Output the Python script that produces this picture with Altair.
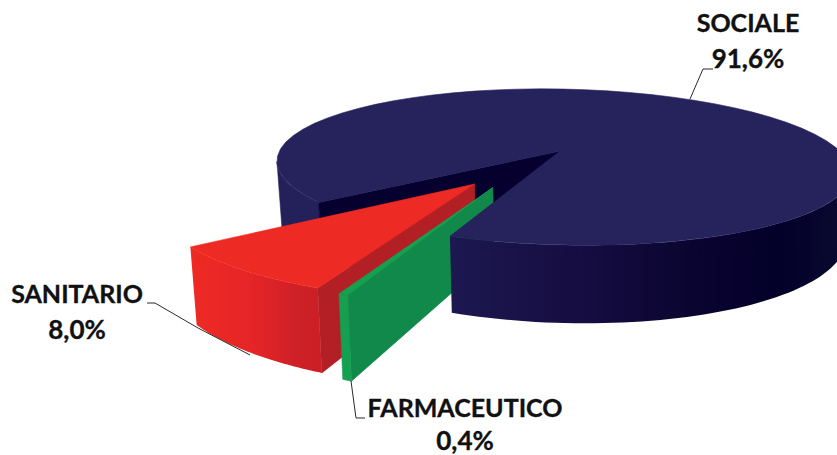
import math
import altair as alt

# Spending shares by sector, in percent
CATEGORIES = ["FARMACEUTICO", "SANITARIO", "SOCIALE"]
SHARES = [0.4, 8.0, 91.6]

# Colours of each sector's faces
TOP = {"FARMACEUTICO": "#14a050", "SANITARIO": "#ee2a24", "SOCIALE": "#25225c"}
RADIAL = {"FARMACEUTICO": "#10894a", "SANITARIO": "#b21f24", "SOCIALE": "#06002e"}

# Perspective camera for the tilted disc
APEX_X, APEX_Y = 560.0, 151.0
SCALE_X, SCALE_Y = 281.0, 74.7
SLICE_SCALE_X, SLICE_SCALE_Y = 285.0, 76.5
PERSP_V, PERSP_U = 0.205, 0.014
TILT = 0.02
DEPTH = 62.0
TAPER = 0.017
START_ANGLE = 108.5
SLICE_TWIST = 0.3
RED_PULL_ANGLE = 123.4
GREEN_PULL_ANGLE = 115.4
PULL = 0.5


def project(u, v, low=False, sx=SCALE_X, sy=SCALE_Y):
    """Map a point of the unit disc to the canvas, on the top or bottom face."""
    w = 1 - PERSP_V * v - PERSP_U * u
    dx = sx * u / w
    x = APEX_X + dx
    y = APEX_Y + sy * v / w + TILT * dx
    if low:
        y += DEPTH / w
        x += TAPER * (APEX_X - x)
    return [round(x, 2), round(y, 2)]


def rim(t0, t1, offset, low=False, steps=60, sx=SCALE_X, sy=SCALE_Y):
    pts = []
    for i in range(steps + 1):
        t = math.radians(t0 + (t1 - t0) * i / steps)
        pts.append(project(offset[0] + math.cos(t), offset[1] + math.sin(t), low, sx, sy))
    return pts


def explode(amount, angle):
    return (amount * math.cos(math.radians(angle)), amount * math.sin(math.radians(angle)))


def polygon(points):
    ring = points + [points[0]]
    return {"type": "Feature", "properties": {}, "geometry": {"type": "Polygon", "coordinates": [ring]}}


def polyline(points):
    return {"type": "Feature", "properties": {}, "geometry": {"type": "LineString", "coordinates": points}}


IDENTITY = dict(type="identity", scale=1, translate=[0, 0])


def surface(points, fill):
    edge = fill if isinstance(fill, str) else "#00000000"
    return (
        alt.Chart(alt.Data(values=[polygon(points)]))
        .mark_geoshape(fill=fill, stroke=edge, strokeWidth=0.6, clip=True)
        .project(**IDENTITY)
    )


def leader(points):
    return (
        alt.Chart(alt.Data(values=[polyline(points)]))
        .mark_geoshape(filled=False, stroke="#2b2b2b", strokeWidth=1)
        .project(**IDENTITY)
    )


def horizontal(stops):
    return alt.Gradient(
        gradient="linear", x1=0, x2=1, y1=0, y2=0,
        stops=[alt.GradientStop(offset=o, color=c) for o, c in stops],
    )


# Sweep of each sector, laid out clockwise from the start angle
sweeps = {}
angle = START_ANGLE
for name, share in zip(CATEGORIES, SHARES):
    sweeps[name] = (angle, angle + share * 3.6)
    angle += share * 3.6


def slice_faces(name, offset, outer_fill):
    t0, t1 = [a + SLICE_TWIST for a in sweeps[name]]
    scale = dict(sx=SLICE_SCALE_X, sy=SLICE_SCALE_Y)
    centre_top = project(offset[0], offset[1], **scale)
    centre_low = project(offset[0], offset[1], low=True, **scale)
    radial = [centre_top, rim(t0, t0, offset, steps=1, **scale)[0],
              rim(t0, t0, offset, True, 1, **scale)[0], centre_low]
    outer = rim(t0, t1, offset, **scale) + rim(t0, t1, offset, True, **scale)[::-1]
    top = [centre_top] + rim(t0, t1, offset, **scale)
    return [
        surface(radial, RADIAL[name]),
        surface(outer, outer_fill),
        surface(top, TOP[name]),
    ]


origin = (0.0, 0.0)
soc_start, soc_end = sweeps["SOCIALE"]

# The side wall runs only up to the disc's silhouette on either flank
LEFT_SILHOUETTE = 168
RIGHT_SILHOUETTE = 12

# Parts of the large sector that sit behind the detached slices
back = [
    surface(
        rim(soc_start, LEFT_SILHOUETTE, origin) + rim(soc_start, LEFT_SILHOUETTE, origin, True)[::-1],
        "#23205a",
    ),
    surface(
        [project(0, 0), rim(soc_start, soc_start, origin, steps=1)[0],
         rim(soc_start, soc_start, origin, True, 1)[0], project(0, 0, low=True)],
        RADIAL["SOCIALE"],
    ),
]

red_faces = slice_faces(
    "SANITARIO", explode(PULL, RED_PULL_ANGLE),
    horizontal([(0, "#ee2a24"), (0.45, "#e62527"), (0.8, "#cf2027"), (1, "#c91f25")]),
)
green_faces = slice_faces("FARMACEUTICO", explode(PULL, GREEN_PULL_ANGLE), TOP["FARMACEUTICO"])

# Parts of the large sector that overlap the detached slices
front = [
    surface(
        rim(soc_end - 360, RIGHT_SILHOUETTE, origin) + rim(soc_end - 360, RIGHT_SILHOUETTE, origin, True)[::-1],
        horizontal([(0, "#1c1850"), (0.35, "#150c40"), (0.6, "#0a0530"),
                    (0.82, "#03002a"), (1, "#0a0a30")]),
    ),
    surface([project(0, 0)] + rim(soc_start, soc_end, origin), TOP["SOCIALE"]),
]

leaders = [
    leader([[690, 99], [703, 69], [713, 69]]),
    leader([[147, 303], [155, 303], [198, 328], [250, 355]]),
    leader([[351, 381], [356, 418], [365, 418]]),
]

# Label anchors: name line and value line share one centre
LABEL_SPOTS = {
    "SOCIALE": (748, 32, 68),
    "SANITARIO": (77, 303, 339),
    "FARMACEUTICO": (465, 417, 450),
}


def label(text, x, y, size):
    return (
        alt.Chart(alt.Data(values=[{"t": text}]))
        .mark_text(font="Lato", fontWeight="bold", fontSize=size, color="#111111",
                   stroke="#111111", strokeWidth=0.35, align="center", baseline="alphabetic")
        .encode(text="t:N", x=alt.value(x), y=alt.value(y))
    )


labels = []
for name, share in zip(CATEGORIES, SHARES):
    x, y_name, y_value = LABEL_SPOTS[name]
    labels.append(label(name, x, y_name, 25))
    labels.append(label(f"{share:.1f}%".replace(".", ","), x, y_value, 26))

chart = (
    alt.layer(*back, *red_faces, *green_faces, *front, *leaders, *labels)
    .properties(width=837, height=455, padding=0, autosize=alt.AutoSizeParams(type="none"),
                background="white")
    .configure_view(stroke=None)
)

chart.save("out.html", embed_options={"renderer": "svg", "actions": False})
